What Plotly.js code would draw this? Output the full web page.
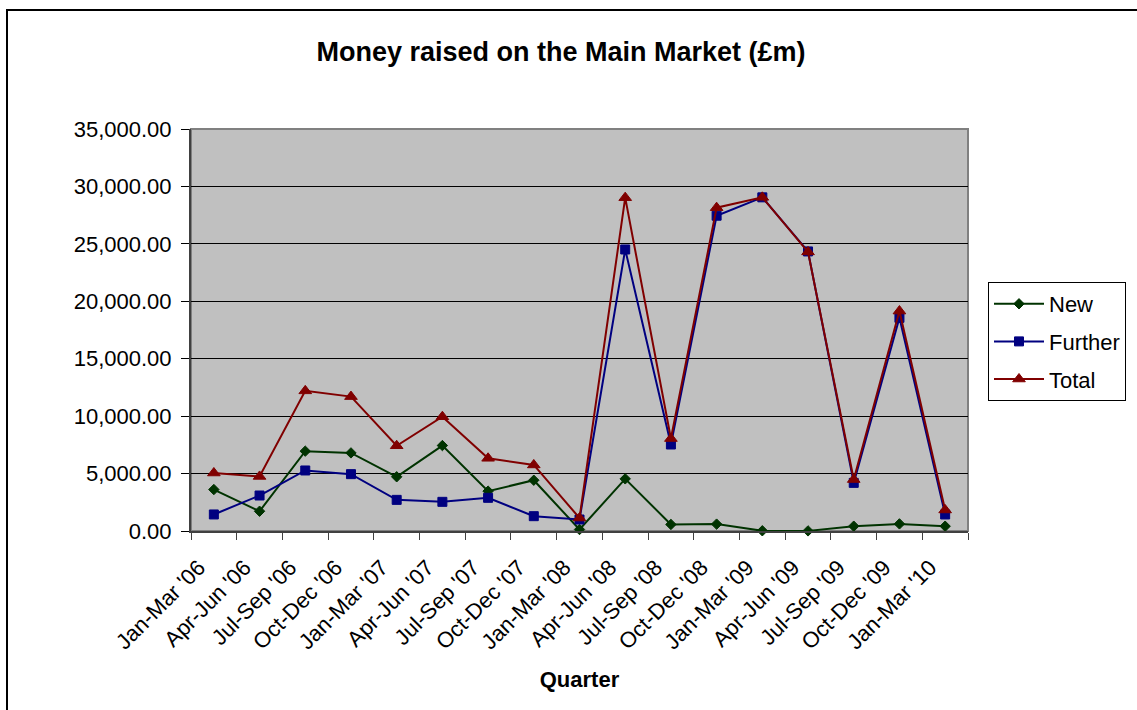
<!DOCTYPE html>
<html>
<head>
<meta charset="utf-8">
<script src="https://cdn.plot.ly/plotly-3.0.1.min.js"></script>
<style>
  html, body { margin: 0; padding: 0; background: #fff; }
  #wrap { position: relative; width: 1137px; height: 710px; overflow: hidden; }
  #chart { width: 1137px; height: 710px; }
  #frame { position: absolute; left: 6px; top: 9px; width: 1200px; height: 800px;
           border-left: 2px solid #000; border-top: 2px solid #000; pointer-events: none; }
</style>
</head>
<body>
<div id="wrap">
  <div id="chart"></div>
  <div id="frame"></div>
</div>
<script>
const quarters = ["Jan-Mar '06","Apr-Jun '06","Jul-Sep '06","Oct-Dec '06","Jan-Mar '07","Apr-Jun '07",
  "Jul-Sep '07","Oct-Dec '07","Jan-Mar '08","Apr-Jun '08","Jul-Sep '08","Oct-Dec '08",
  "Jan-Mar '09","Apr-Jun '09","Jul-Sep '09","Oct-Dec '09","Jan-Mar '10"];
const newValues     = [3610, 1720, 6950, 6800, 4720, 7440, 3470, 4420, 130, 4540, 570, 600, 20, 10, 420, 620, 420];
const furtherValues = [1440, 3090, 5270, 4950, 2710, 2540, 2890, 1290, 1000, 24510, 7530, 27450, 29050, 24340, 4190, 18560, 1440];
const totalValues   = [5050, 4750, 12200, 11700, 7420, 9950, 6330, 5750, 1130, 29020, 8050, 28150, 29050, 24300, 4480, 19150, 1830];
const seriesNames = ["New", "Further", "Total"];
const yTicks = [0, 5000, 10000, 15000, 20000, 25000, 30000, 35000];

const font = "Arial, 'Liberation Sans', sans-serif";

function series(name, y, color, symbol, size) {
  return {
    type: 'scatter', mode: 'lines+markers', name: name, x: quarters, y: y,
    legendgroup: name,
    line: {color: color, width: 2},
    marker: {color: color, symbol: symbol, size: size, line: {color: color, width: 1}},
    cliponaxis: false
  };
}

const data = [
  series(seriesNames[0], newValues, '#003300', 'diamond', 8),
  series(seriesNames[1], furtherValues, '#000080', 'square', 9),
  series(seriesNames[2], totalValues, '#800000', 'triangle-up', 11)
];

const layout = {
  width: 1137, height: 710,
  margin: {l: 191, r: 169, t: 129, b: 179},
  paper_bgcolor: '#ffffff',
  plot_bgcolor: '#c0c0c0',
  font: {family: font, color: '#000', size: 20},
  title: {text: '<b>Money raised on the Main Market (£m)</b>', font: {family: font, size: 27, color: '#000'},
          xref: 'container', x: 0.4934, xanchor: 'center', yref: 'container', y: 0.927, yanchor: 'middle'},
  xaxis: {
    type: 'category', range: [-0.5, 16.5], tickson: 'boundaries',
    showgrid: false, zeroline: false,
    showline: true, linecolor: '#404040', linewidth: 2,
    ticks: 'outside', ticklen: 7, tickcolor: '#404040', tickwidth: 1,
    tickangle: -45, tickfont: {family: font, size: 22, color: '#000'},
    ticklabelstandoff: 13, ticklabelshift: -15,
    title: {text: '<b>Quarter</b>', font: {family: font, size: 22, color: '#000'}, standoff: 18},
    automargin: false, fixedrange: true
  },
  yaxis: {
    range: [0, 35000], tickvals: yTicks, tickformat: ',.2f',
    showgrid: true, gridcolor: '#000000', gridwidth: 1, zeroline: false,
    showline: true, linecolor: '#404040', linewidth: 2,
    ticks: 'outside', ticklen: 8, tickcolor: '#000', tickwidth: 1,
    tickfont: {family: font, size: 22, color: '#000'},
    ticklabelstandoff: 5,
    automargin: false, fixedrange: true
  },
  shapes: [{type: 'rect', xref: 'paper', yref: 'paper', x0: 0, x1: 1, y0: 0, y1: 1,
            line: {color: '#808080', width: 2}, fillcolor: 'rgba(0,0,0,0)', layer: 'below'}],
  showlegend: true,
  legend: {
    xref: 'container', yref: 'container',
    x: 988 / 1137, xanchor: 'left', y: 1 - 341.5 / 710, yanchor: 'middle',
    bgcolor: '#ffffff', bordercolor: '#000000', borderwidth: 1,
    font: {family: font, size: 22, color: '#000'},
    tracegroupgap: 6, itemwidth: 50, traceorder: 'grouped'
  }
};

Plotly.newPlot('chart', data, layout, {displayModeBar: false, staticPlot: true});
</script>
</body>
</html>
